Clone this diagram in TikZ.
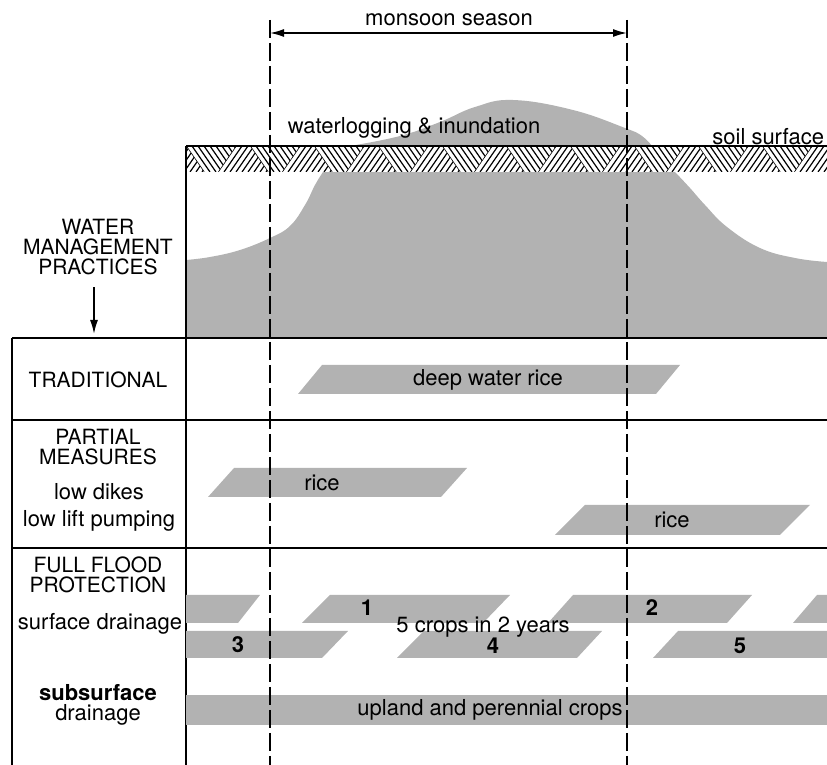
\documentclass[tikz,border=0pt]{standalone}
\usepackage{fontspec}
\setmainfont{TeX Gyre Heros}
\usetikzlibrary{arrows.meta}
\definecolor{floodgray}{gray}{0.70}
\begin{document}
\begin{tikzpicture}[x=0.5pt,y=-0.5pt,
    flood_fill/.style={fill=floodgray},
    crop_bar/.style={fill=floodgray},
    frame_line/.style={line width=0.8pt},
    season_line/.style={line width=0.7pt,dash pattern=on 9pt off 2.5pt},
    hatch_line/.style={line width=0.6pt},
    tip_arrow/.style={line width=0.8pt},
    row_label/.style={align=center,font=\fontsize{10.5}{10}\selectfont,inner sep=0pt},
    bar_label/.style={font=\fontsize{11}{13}\selectfont,inner sep=0pt}]

    \useasboundingbox (0,0) rectangle (827,765);

    % flood water
    \fill[flood_fill] (186,338) -- plot[smooth,tension=0.7] coordinates {(186,260) (210,257) (240,250) (270,238) (290,226) (305,205) (315,185) (323,172)}
        -- plot[smooth,tension=0.7] coordinates {(675,172) (690,188) (705,205) (727,227) (760,248) (795,258) (827,262)} -- (827,338) -- cycle;
    \fill[flood_fill] plot[smooth,tension=0.7] coordinates {(350,146) (400,136) (440,122) (475,107) (513,100) (573,110) (625,128) (642,136) (652,146)} -- cycle;

    % soil
    \fill[white] (186,146) rectangle (827,172);
    \begin{scope}
        \clip (186,146) rectangle (827,172);
        \foreach \a in {122,186,...,890} {
            \begin{scope}
                \clip (\a,146) -- ++(18,26) -- (\a+32,172) -- ++(18,-26) -- cycle;
                \foreach \k in {0,6,...,48} \draw[hatch_line] (\a+\k,146) -- ++(18,26);
            \end{scope}
            \begin{scope}
                \clip (\a+32,172) -- ++(18,-26) -- (\a+64,146) -- ++(18,26) -- cycle;
                \foreach \k in {0,6,...,48} \draw[hatch_line] (\a+32+\k,172) -- ++(18,-26);
            \end{scope}
        }
    \end{scope}
    \draw[frame_line] (186,146) -- (827,146);

    % table
    \draw[frame_line] (186,146) -- (186,765);
    \draw[frame_line] (12,338) -- (12,765);
    \foreach \y in {338,420,548} \draw[frame_line] (12,\y) -- (827,\y);

    % crops
    \fill[crop_bar] (322,365) -- (680,365) -- (656,394) -- (298,394) -- cycle;
    \fill[crop_bar] (234,468) -- (467,468) -- (441,497) -- (208,497) -- cycle;
    \fill[crop_bar] (585,505) -- (810,505) -- (780,535) -- (555,535) -- cycle;
    \fill[crop_bar] (186,595) -- (260,595) -- (238,623) -- (186,623) -- cycle;
    \fill[crop_bar] (330,595) -- (510,595) -- (483,623) -- (302,623) -- cycle;
    \fill[crop_bar] (573,595) -- (752,595) -- (727,623) -- (548,623) -- cycle;
    \fill[crop_bar] (817,595) -- (827,595) -- (827,623) -- (793,623) -- cycle;
    \fill[crop_bar] (186,631) -- (348,631) -- (322,658) -- (186,658) -- cycle;
    \fill[crop_bar] (424,631) -- (602,631) -- (577,658) -- (397,658) -- cycle;
    \fill[crop_bar] (678,631) -- (827,631) -- (827,658) -- (653,658) -- cycle;
    \fill[crop_bar] (186,695) rectangle (827,725);

    % monsoon season
    \draw[season_line] (270,20) -- (270,765);
    \draw[season_line] (627,20) -- (627,765);
    \coordinate (ms_start) at (270,33);
    \coordinate (ms_end) at (627,33);
    \draw[tip_arrow,{Latex[length=7pt,width=4pt]}-{Latex[length=7pt,width=4pt]}] (ms_start) -- (ms_end);
    \node[bar_label] (ms) at (449,20) {monsoon season};

    \node[bar_label] (wl) at (414,128) {waterlogging \& inundation};
    \node[bar_label,anchor=west] (ss) at (712,137) {soil surface};

    % row labels
    \node[row_label] (wmp) at (98,247) {WATER\\MANAGEMENT\\PRACTICES};
    \coordinate (wmp_end) at (94,334);
    \draw[tip_arrow,-{Latex[length=7pt,width=4pt]},shorten <=6pt] (wmp.south -| wmp_end) -- (wmp_end);
    \node[row_label] (trad) at (98,380) {TRADITIONAL};
    \node[row_label] (part) at (98,447) {PARTIAL\\MEASURES};
    \node[bar_label] (dikes) at (99,492) {low dikes};
    \node[bar_label] (pump) at (99,521) {low lift pumping};
    \node[row_label] (full) at (98,575) {FULL FLOOD\\PROTECTION};
    \node[bar_label] (surf) at (100,624) {surface drainage};
    \node[row_label,font=\fontsize{11}{10}\selectfont] (subs) at (98,705) {\textbf{subsurface}\\drainage};

    % bar labels
    \node[bar_label] (dwr) at (488,380) {deep water rice};
    \node[bar_label] (rice1) at (322,483) {rice};
    \node[bar_label] (rice2) at (672,520) {rice};
    \node[bar_label] (c1) at (367,608) {\textbf{1}};
    \node[bar_label] (c2) at (652,608) {\textbf{2}};
    \node[bar_label] (c3) at (238,645) {\textbf{3}};
    \node[bar_label] (c4) at (493,646) {\textbf{4}};
    \node[bar_label] (c5) at (740,646) {\textbf{5}};
    \node[bar_label] (five) at (483,627) {5 crops in 2 years};
    \node[bar_label] (upl) at (490,710) {upland and perennial crops};
\end{tikzpicture}
\end{document}
